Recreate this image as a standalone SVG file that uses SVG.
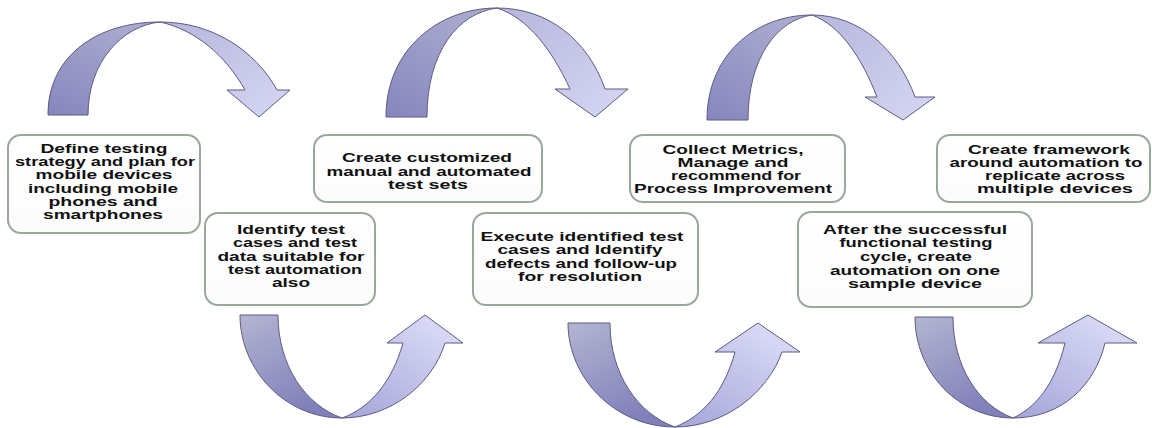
<svg xmlns="http://www.w3.org/2000/svg" width="1152" height="428" viewBox="0 0 1152 428">
<defs>
<linearGradient id="gTL" x1="0" y1="1" x2="0.6" y2="0">
<stop offset="0" stop-color="#8686be"/>
<stop offset="1" stop-color="#a9a9cf"/>
</linearGradient>
<linearGradient id="gTR" x1="0" y1="0" x2="1" y2="1">
<stop offset="0" stop-color="#b6b6dc"/>
<stop offset="1" stop-color="#d6d6f4"/>
</linearGradient>
<linearGradient id="gBL" x1="0" y1="0" x2="0.5" y2="1">
<stop offset="0" stop-color="#b4b4d2"/>
<stop offset="1" stop-color="#8080ba"/>
</linearGradient>
<linearGradient id="gBR" x1="0" y1="1" x2="0.8" y2="0">
<stop offset="0" stop-color="#a4a4d8"/>
<stop offset="1" stop-color="#dcdcf8"/>
</linearGradient>
<linearGradient id="gBox" x1="0" y1="0" x2="0" y2="1">
<stop offset="0" stop-color="#ffffff"/>
<stop offset="1" stop-color="#fbfcfb"/>
</linearGradient>
</defs>
<style>
.box{fill:url(#gBox);stroke:#9aa79b;stroke-width:2}
.t{font-family:"Liberation Sans",Arial,sans-serif;font-weight:bold;font-size:13px;fill:#111;text-anchor:middle}
.al{fill:url(#gTL);stroke:#5c5c82;stroke-width:1}
.ar{fill:url(#gTR);stroke:#5c5c82;stroke-width:1}
.bl{fill:url(#gBL);stroke:#5c5c82;stroke-width:1}
.br{fill:url(#gBR);stroke:#5c5c82;stroke-width:1}
</style>
<rect width="1152" height="428" fill="#ffffff"/>
<g id="connectors">
<path class="al" d="M48,115 C48,55 98,22 160,22 C122,26 88,62 88,115 Z"/>
<path class="ar" d="M160,22 C212,22 255,50 277,90 L290,90 L259,117 L227,90 L245,90 C226,56 196,30 160,22 Z"/>
<path class="al" d="M386,117 C386,50 438,8 497,8 C458,13 427,52 427,117 Z"/>
<path class="ar" d="M497,8 C548,8 588,40 605,89 L628,89 L595,117 L555,89 L570,89 C552,50 528,18 497,8 Z"/>
<path class="al" d="M707,120 C707,55 755,15 812,15 C777,20 748,58 748,120 Z"/>
<path class="ar" d="M812,15 C860,15 898,50 915,97 L935,97 L903,120 L865,97 L877,97 C862,58 840,25 812,15 Z"/>
<path class="bl" d="M240,315 C240,370 285,418 342,418 C305,405 278,365 278,315 Z"/>
<path class="br" d="M342,418 C390,418 432,385 445,343 L463,343 L425,315 L387,343 L403,343 C392,382 370,408 342,418 Z"/>
<path class="bl" d="M568,323 C568,378 615,427 675,427 C638,414 610,374 610,323 Z"/>
<path class="br" d="M675,427 C725,427 768,392 782,352 L800,352 L758,323 L715,352 L735,352 C724,392 703,416 675,427 Z"/>
<path class="bl" d="M915,317 C915,372 958,418 1013,418 C978,405 953,366 953,317 Z"/>
<path class="br" d="M1013,418 C1062,418 1095,385 1105,343 L1137,343 L1088,315 L1038,343 L1065,343 C1055,385 1035,408 1013,418 Z"/>
</g>
<g id="define">
<rect class="box" x="8" y="135" width="192" height="98" rx="13"/>
<text class="t"><tspan x="104" y="153" textLength="127" lengthAdjust="spacingAndGlyphs">Define testing</tspan><tspan x="105" y="166" textLength="180" lengthAdjust="spacingAndGlyphs">strategy and plan for</tspan><tspan x="104" y="179" textLength="137" lengthAdjust="spacingAndGlyphs">mobile devices</tspan><tspan x="103" y="193" textLength="150" lengthAdjust="spacingAndGlyphs">including mobile</tspan><tspan x="103" y="206" textLength="109" lengthAdjust="spacingAndGlyphs">phones and</tspan><tspan x="103" y="219" textLength="120" lengthAdjust="spacingAndGlyphs">smartphones</tspan></text>
</g>
<g id="identify">
<rect class="box" x="205" y="213" width="170" height="92" rx="13"/>
<text class="t"><tspan x="291" y="234" textLength="108" lengthAdjust="spacingAndGlyphs">Identify test</tspan><tspan x="295" y="247" textLength="124" lengthAdjust="spacingAndGlyphs">cases and test</tspan><tspan x="291" y="261" textLength="147" lengthAdjust="spacingAndGlyphs">data suitable for</tspan><tspan x="295" y="274" textLength="134" lengthAdjust="spacingAndGlyphs">test automation</tspan><tspan x="291" y="287" textLength="38" lengthAdjust="spacingAndGlyphs">also</tspan></text>
</g>
<g id="create-sets">
<rect class="box" x="314" y="135" width="228" height="67" rx="13"/>
<text class="t"><tspan x="427" y="162" textLength="170" lengthAdjust="spacingAndGlyphs">Create customized</tspan><tspan x="429" y="176" textLength="205" lengthAdjust="spacingAndGlyphs">manual and automated</tspan><tspan x="428" y="189" textLength="80" lengthAdjust="spacingAndGlyphs">test sets</tspan></text>
</g>
<g id="execute">
<rect class="box" x="473" y="213" width="225" height="92" rx="13"/>
<text class="t"><tspan x="582" y="241" textLength="203" lengthAdjust="spacingAndGlyphs">Execute identified test</tspan><tspan x="580" y="254" textLength="165" lengthAdjust="spacingAndGlyphs">cases and Identify</tspan><tspan x="581" y="268" textLength="192" lengthAdjust="spacingAndGlyphs">defects and follow-up</tspan><tspan x="580" y="281" textLength="124" lengthAdjust="spacingAndGlyphs">for resolution</tspan></text>
</g>
<g id="collect">
<rect class="box" x="630" y="135" width="215" height="67" rx="13"/>
<text class="t"><tspan x="733" y="154" textLength="141" lengthAdjust="spacingAndGlyphs">Collect Metrics,</tspan><tspan x="733" y="167" textLength="111" lengthAdjust="spacingAndGlyphs">Manage and</tspan><tspan x="736" y="180" textLength="130" lengthAdjust="spacingAndGlyphs">recommend for</tspan><tspan x="733" y="193" textLength="198" lengthAdjust="spacingAndGlyphs">Process Improvement</tspan></text>
</g>
<g id="after">
<rect class="box" x="798" y="212" width="234" height="95" rx="13"/>
<text class="t"><tspan x="915" y="234" textLength="184" lengthAdjust="spacingAndGlyphs">After the successful</tspan><tspan x="916" y="247" textLength="153" lengthAdjust="spacingAndGlyphs">functional testing</tspan><tspan x="916" y="261" textLength="112" lengthAdjust="spacingAndGlyphs">cycle, create</tspan><tspan x="915" y="275" textLength="170" lengthAdjust="spacingAndGlyphs">automation on one</tspan><tspan x="915" y="288" textLength="134" lengthAdjust="spacingAndGlyphs">sample device</tspan></text>
</g>
<g id="framework">
<rect class="box" x="937" y="135" width="213" height="67" rx="13"/>
<text class="t"><tspan x="1049" y="154" textLength="162" lengthAdjust="spacingAndGlyphs">Create framework</tspan><tspan x="1046" y="167" textLength="193" lengthAdjust="spacingAndGlyphs">around automation to</tspan><tspan x="1055" y="180" textLength="140" lengthAdjust="spacingAndGlyphs">replicate across</tspan><tspan x="1055" y="193" textLength="156" lengthAdjust="spacingAndGlyphs">multiple devices</tspan></text>
</g>
</svg>
